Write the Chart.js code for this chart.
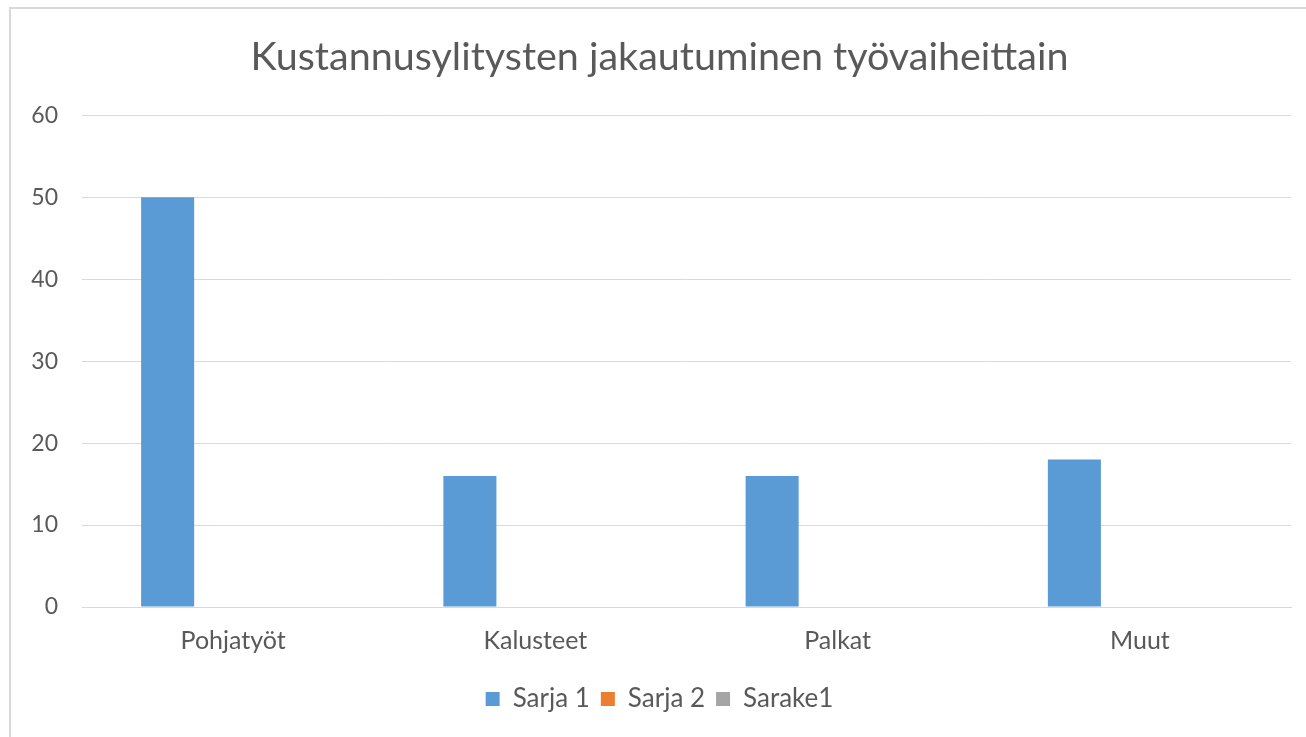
<!DOCTYPE html>
<html>
<head>
<meta charset="utf-8">
<script src="https://cdn.jsdelivr.net/npm/chart.js@4.4.1/dist/chart.umd.min.js"></script>
<style>
  html, body { margin: 0; padding: 0; background: #fff; overflow: hidden; }
  #frame {
    position: absolute; left: 9px; top: 7px;
    width: 1400px; height: 800px;
    border-left: 2px solid #d9d9d9; border-top: 2px solid #d9d9d9;
  }
  #wrap { position: absolute; left: 0; top: 0; width: 1306px; height: 737px; }
</style>
</head>
<body>
<div id="frame"></div>
<div id="wrap"><canvas id="mycanvas" width="1306" height="737"></canvas></div>
<script>
var categories = ["Pohjatyöt", "Kalusteet", "Palkat", "Muut"];
var sarja1 = [50, 16, 16, 18];
var sarja2 = [null, null, null, null];
var sarake1 = [null, null, null, null];
var yTicks = [0, 10, 20, 30, 40, 50, 60];

var textColor = "#595959";
var fontFamily = "Lato, 'Open Sans', sans-serif";

var chartdata =
{
    labels: categories,
    datasets:
    [{
        label: "Sarja 1",
        backgroundColor: "#5b9bd5",
        data: sarja1
    },
    {
        label: "Sarja 2",
        backgroundColor: "#ed7d31",
        data: sarja2
    },
    {
        label: "Sarake1",
        backgroundColor: "#a5a5a5",
        data: sarake1
    }]
};

var ctx = document.getElementById("mycanvas");

var BarGraph = new Chart(ctx,
{
    type: 'bar',
    data: chartdata,
    options:
    {
        responsive: false,
        animation: false,
        categoryPercentage: 0.65,
        barPercentage: 0.81,
        layout: { padding: { left: 28, right: 15, top: 0, bottom: 15 } },
        plugins:
        {
            title:
            {
                display: true,
                text: "Kustannusylitysten jakautuminen työvaiheittain",
                color: textColor,
                font: { family: fontFamily, size: 39.5, weight: 'normal' },
                padding: { top: 34, bottom: 34 }
            },
            legend:
            {
                position: 'bottom',
                labels:
                {
                    color: textColor,
                    boxWidth: 14,
                    boxHeight: 14,
                    padding: 11,
                    font: { family: fontFamily, size: 26 }
                }
            },
            tooltip: { enabled: false }
        },
        scales:
        {
            x:
            {
                grid: { display: false, drawTicks: false },
                border: { color: "#d9d9d9", width: 1 },
                ticks:
                {
                    color: textColor,
                    padding: 19,
                    font: { family: fontFamily, size: 25 }
                }
            },
            y:
            {
                min: 0,
                max: 60,
                afterFit: function(scale) { scale.width = 54; },
                afterBuildTicks: function(scale) {
                    scale.ticks = yTicks.map(function(v) { return { value: v }; });
                },
                grid: { color: "#d9d9d9", drawTicks: false },
                border: { display: false },
                ticks:
                {
                    color: textColor,
                    padding: 24,
                    font: { family: fontFamily, size: 23 }
                }
            }
        }
    }
});
</script>
</body>
</html>
